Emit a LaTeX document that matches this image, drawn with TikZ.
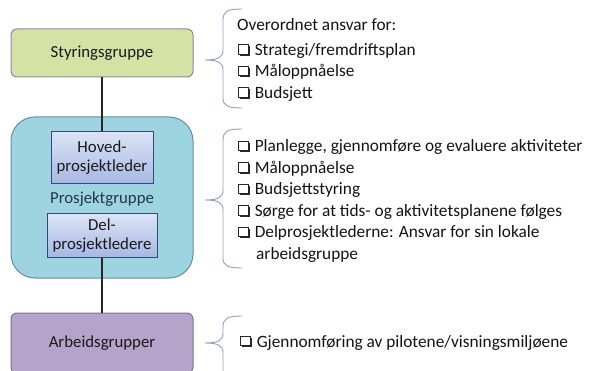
\documentclass[tikz,border=0pt]{standalone}
\usepackage{fontspec}
\setmainfont{Carlito}
\begin{document}
\begin{tikzpicture}[x=1pt,y=-1pt,
  txt/.style={font=\fontsize{17.3}{19}\selectfont, text=black!92, inner sep=0pt, anchor=west, text height=12pt, text depth=4pt},
  boxtxt/.style={font=\fontsize{16.8}{18.5}\selectfont, text=black!90, align=center},
  bracecol/.style={draw=bracec, line width=0.9pt},
  conn/.style={draw=black!85, line width=1.3pt}
]
\definecolor{greenf}{HTML}{D5E2A5}
\definecolor{greenb}{HTML}{7F8EA0}
\definecolor{bluef}{HTML}{9ED4E0}
\definecolor{blueb}{HTML}{5F8FA8}
\definecolor{purpf}{HTML}{B5A3C9}
\definecolor{purpb}{HTML}{7D7099}
\definecolor{innert}{HTML}{DCE4F5}
\definecolor{innerb}{HTML}{A6B8E2}
\definecolor{innerd}{HTML}{2F4A80}
\definecolor{bracec}{HTML}{8EA2C0}
\definecolor{protxt}{HTML}{22364C}
\newcommand{\cbx}{\tikz[baseline=-1.5pt,x=1pt,y=1pt]{\fill[black!85] (1.8,-1.8) rectangle (11.2,7.6); \draw[black!85, fill=white, line width=0.9pt] (0,0) rectangle (9.4,9.4);}\hspace{1pt}}
\useasboundingbox (0,0) rectangle (591,371);
\fill[white] (0,0) rectangle (591,371);

% left boxes
\node[draw=greenb, fill=greenf, line width=1pt, rounded corners=6pt, minimum width=182pt, minimum height=48pt, boxtxt] (sty) at (102,53) {Styringsgruppe};
\node[draw=blueb, fill=bluef, line width=1pt, rounded corners=24pt, minimum width=182pt, minimum height=161pt] (pro) at (102,197.5) {};
\node[boxtxt, text=protxt] (prolab) at (102,199) {Prosjektgruppe};
\node[draw=innerd, line width=1pt, top color=innert, bottom color=innerb, minimum width=102pt, minimum height=52pt, inner sep=1pt, boxtxt] (hov) at (102,157.5) {Hoved-\\prosjektleder};
\node[draw=innerd, line width=1pt, top color=innert, bottom color=innerb, minimum width=110pt, minimum height=44pt, inner sep=1pt, boxtxt] (del) at (102,235.5) {Del-\\prosjektledere};
\node[draw=purpb, fill=purpf, line width=1pt, rounded corners=6pt, minimum width=182pt, minimum height=60pt, boxtxt] (arb) at (102,343) {Arbeidsgrupper};

\draw[conn] (sty.south) -- (hov.north);
\draw[conn] (del.south) -- (arb.north);

% braces
\draw[bracecol] (242,9) .. controls (228,9) and (223,11) .. (223,20) -- (223,50) .. controls (223,57) and (219,60) .. (205,60)
  .. controls (219,60) and (223,63) .. (223,70) -- (223,98) .. controls (223,106) and (228,108) .. (242,108);
\draw[bracecol] (242,129) .. controls (228,129) and (223,131) .. (223,140) -- (223,190) .. controls (223,197) and (219,200) .. (205,200)
  .. controls (219,200) and (223,203) .. (223,210) -- (223,258) .. controls (223,266) and (228,268) .. (242,268);
\draw[bracecol] (242,316) .. controls (228,316) and (223,318) .. (223,327) -- (223,333) .. controls (223,340) and (219,343) .. (205,343)
  .. controls (219,343) and (223,346) .. (223,353) -- (223,371);

% block 1
\node[txt] (t1) at (237,27) {Overordnet ansvar for:};
\node[txt] (t2) at (238,51.5) {\cbx\ Strategi/fremdriftsplan};
\node[txt] (t3) at (238,73) {\cbx\ Måloppnåelse};
\node[txt] (t4) at (238,94.5) {\cbx\ Budsjett};
% block 2
\node[txt] (u1) at (238,148) {\cbx\ Planlegge, gjennomføre og evaluere aktiviteter};
\node[txt] (u2) at (238,169.5) {\cbx\ Måloppnåelse};
\node[txt] (u3) at (238,191) {\cbx\ Budsjettstyring};
\node[txt] (u4) at (238,212.5) {\cbx\ Sørge for at tids- og aktivitetsplanene følges};
\node[txt] (u5) at (238,234) {\cbx\ Delprosjektlederne: Ansvar for sin lokale};
\node[txt] (u6) at (256,255.5) {arbeidsgruppe};
% block 3
\node[txt] (v1) at (240,343) {\cbx\ Gjennomføring av pilotene/visningsmiljøene};
\end{tikzpicture}
\end{document}
